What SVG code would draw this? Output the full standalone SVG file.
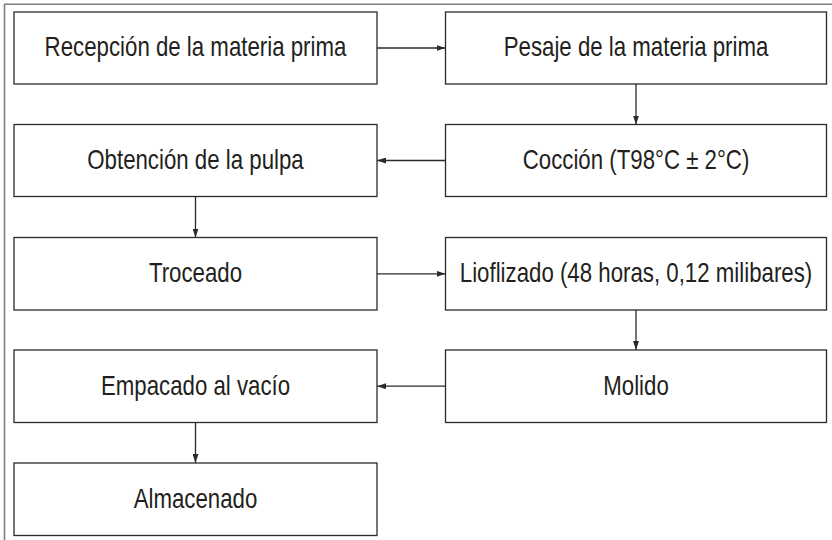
<svg xmlns="http://www.w3.org/2000/svg" width="832" height="540" viewBox="0 0 832 540">
<style>
.box{fill:#fff;stroke:#2b2b2b;stroke-width:1.3}
.lbl{font-family:"Liberation Sans",Arial,sans-serif;font-size:28px;fill:#231f20;text-anchor:middle}
.con{stroke:#2b2b2b;stroke-width:1.3;fill:none;marker-end:url(#ah)}
.frame{stroke:#808080;stroke-width:1.6;fill:none}
</style>
<defs>
<marker id="ah" markerWidth="9" markerHeight="6" refX="9" refY="3" orient="auto" markerUnits="userSpaceOnUse">
<path d="M0,0 L9,3 L0,6 Z" fill="#2b2b2b"/>
</marker>
</defs>
<path class="frame" d="M832,4.3 H4.5 V540"/>
<g id="n1"><rect class="box" x="14" y="12" width="363" height="72"/><text class="lbl" transform="translate(195.5,56.3) scale(0.795,1)">Recepción de la materia prima</text></g>
<g id="n2"><rect class="box" x="445.5" y="12" width="381" height="72"/><text class="lbl" transform="translate(636,56.3) scale(0.795,1)">Pesaje de la materia prima</text></g>
<g id="n3"><rect class="box" x="445.5" y="124.5" width="381" height="72"/><text class="lbl" transform="translate(636,168.8) scale(0.795,1)">Cocción (T98°C ± 2°C)</text></g>
<g id="n4"><rect class="box" x="14" y="124.5" width="363" height="72"/><text class="lbl" transform="translate(195.5,168.8) scale(0.795,1)">Obtención de la pulpa</text></g>
<g id="n5"><rect class="box" x="14" y="237.5" width="363" height="72.5"/><text class="lbl" transform="translate(195.5,282.3) scale(0.795,1)">Troceado</text></g>
<g id="n6"><rect class="box" x="445.5" y="237.5" width="381" height="72.5"/><text class="lbl" transform="translate(636,282.3) scale(0.795,1)">Lioflizado (48 horas, 0,12 milibares)</text></g>
<g id="n7"><rect class="box" x="445.5" y="350" width="381" height="72.5"/><text class="lbl" transform="translate(636,394.8) scale(0.795,1)">Molido</text></g>
<g id="n8"><rect class="box" x="14" y="350" width="363" height="72.5"/><text class="lbl" transform="translate(195.5,394.8) scale(0.795,1)">Empacado al vacío</text></g>
<g id="n9"><rect class="box" x="14" y="463" width="363" height="72.5"/><text class="lbl" transform="translate(195.5,507.8) scale(0.795,1)">Almacenado</text></g>
<g id="connectors">
<path class="con" d="M377,48 H445.5"/>
<path class="con" d="M636,84 V124.5"/>
<path class="con" d="M445.5,160.5 H377"/>
<path class="con" d="M195.5,196.5 V237.5"/>
<path class="con" d="M377,273.8 H445.5"/>
<path class="con" d="M636,310 V350"/>
<path class="con" d="M445.5,386.2 H377"/>
<path class="con" d="M195.5,422.5 V463"/>
</g>
</svg>
